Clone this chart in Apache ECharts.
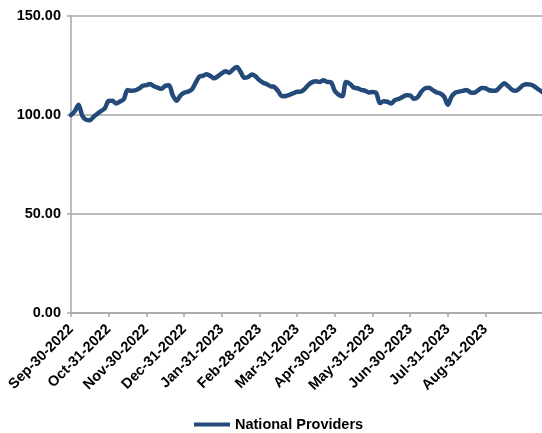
<!DOCTYPE html>
<html>
<head>
<meta charset="utf-8">
<script src="https://cdn.jsdelivr.net/npm/echarts@6/dist/echarts.min.js"></script>
<style>
  html, body { margin: 0; padding: 0; background: #ffffff; }
  #chart { width: 542px; height: 433px; }
</style>
</head>
<body>
<div id="chart"></div>
<script>
// Month-end labels on the date axis
const tickLabels = [
  'Sep-30-2022', 'Oct-31-2022', 'Nov-30-2022', 'Dec-31-2022',
  'Jan-31-2023', 'Feb-28-2023', 'Mar-31-2023', 'Apr-30-2023',
  'May-31-2023', 'Jun-30-2023', 'Jul-31-2023', 'Aug-31-2023'
];

// Observations between consecutive month-end ticks
const pointsPerMonth = 10;

// National Providers index level (base 100 on Sep-30-2022)
const nationalProviders = [
  100.0, 101.9, 105.2, 99.6, 97.6, 97.4, 99.1, 100.6, 102.0, 103.5,
  107.1, 107.2, 105.8, 106.8, 108.0, 112.6, 112.2, 112.4, 113.3, 114.7,
  115.1, 115.7, 114.5, 113.8, 113.2, 114.7, 115.0, 110.0, 107.2, 109.7,
  111.2, 111.8, 112.7, 116.0, 119.3, 119.8, 120.6, 119.7, 118.5, 119.6,
  121.0, 122.1, 121.4, 123.0, 124.2, 121.8, 118.8, 119.2, 120.4, 119.5,
  117.6, 116.3, 115.5, 114.5, 114.1, 112.0, 109.5, 109.6, 110.2, 111.0,
  111.7, 111.8, 113.1, 115.2, 116.6, 117.1, 116.7, 117.6, 116.7, 116.5,
  112.2, 110.3, 109.5, 116.7, 115.8, 113.9, 113.5, 112.7, 112.3, 111.4,
  111.6, 111.1, 106.0, 107.0, 106.7, 105.8, 107.6, 108.1, 109.1, 110.0,
  109.9, 108.2, 109.0, 111.8, 113.5, 113.7, 112.6, 111.4, 110.9, 109.4,
  105.2, 109.3, 111.3, 111.8, 112.2, 112.6, 111.4, 111.2, 112.4, 113.6,
  113.5, 112.5, 112.2, 112.5, 114.5, 116.0, 114.6, 112.8, 112.2, 113.4,
  115.1, 115.5, 115.3, 114.4, 113.0, 111.7
];

// Value axis ticks
const yMin = 0, yMax = 150, yStep = 50;

const categories = nationalProviders.map((_, i) => String(i));
const isMonthEnd = (idx) =>
  idx % pointsPerMonth === 0 && idx / pointsPerMonth < tickLabels.length;

const font = '"Liberation Sans", Arial, sans-serif';
const axisGrey = '#a6a6a6';

const chart = echarts.init(document.getElementById('chart'), null, { renderer: 'canvas' });
chart.setOption({
  animation: false,
  backgroundColor: '#ffffff',
  grid: { left: 71, right: 0, top: 16, bottom: 120 },
  legend: {
    left: 189,
    top: 412,
    icon: 'rect',
    itemWidth: 36,
    itemHeight: 4,
    textStyle: { fontFamily: font, fontWeight: 'bold', fontSize: 14.5, color: '#000' },
    data: ['National Providers']
  },
  xAxis: {
    type: 'category',
    data: categories,
    boundaryGap: false,
    axisLine: { lineStyle: { color: axisGrey, width: 1.5 } },
    axisTick: {
      show: true,
      interval: (idx) => isMonthEnd(idx),
      length: 4,
      lineStyle: { color: axisGrey, width: 1.5 }
    },
    axisLabel: {
      interval: (idx) => isMonthEnd(idx),
      formatter: (val, idx) => tickLabels[idx / pointsPerMonth] || '',
      rotate: 45,
      margin: 14,
      fontFamily: font,
      fontWeight: 'bold',
      fontSize: 14.5,
      color: '#000'
    },
    splitLine: { show: false }
  },
  yAxis: {
    type: 'value',
    min: yMin,
    max: yMax,
    interval: yStep,
    axisLine: { show: true, lineStyle: { color: axisGrey, width: 1.5 } },
    axisTick: { show: true, length: 4, lineStyle: { color: axisGrey, width: 1.5 } },
    axisLabel: {
      formatter: (v) => v.toFixed(2),
      margin: 10,
      fontFamily: font,
      fontWeight: 'bold',
      fontSize: 14.5,
      color: '#000'
    },
    splitLine: { show: true, lineStyle: { color: axisGrey, width: 1.5 } }
  },
  series: [{
    name: 'National Providers',
    type: 'line',
    data: nationalProviders,
    symbol: 'none',
    smooth: 0.3,
    color: '#234a78',
    lineStyle: { color: '#234a78', width: 4.5, cap: 'round', join: 'round' }
  }]
});
</script>
</body>
</html>
